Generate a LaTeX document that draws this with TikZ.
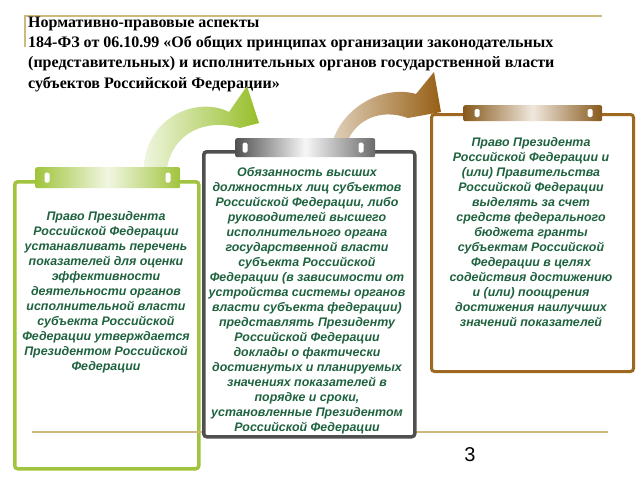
\documentclass[tikz,border=0pt]{standalone}
\usepackage{fontspec}
\setmainfont{Liberation Serif}
\setsansfont{Liberation Sans}
\definecolor{gr}{RGB}{160,196,60}
\definecolor{gy}{RGB}{80,80,80}
\definecolor{br}{RGB}{158,104,32}
\definecolor{txt}{RGB}{30,98,62}
\definecolor{rulec}{RGB}{205,185,125}
\definecolor{grarrow}{RGB}{150,190,40}
\definecolor{brarrow}{RGB}{150,95,20}
\begin{document}
\begin{tikzpicture}[x=1pt,y=-1pt,
 frame/.style={line width=3.5pt, rounded corners=3pt, fill=white, anchor=north west, inner sep=0pt},
 tabbox/.style={rounded corners=2pt, anchor=north west, inner sep=0pt},
 slot/.style={fill=white, rounded corners=1.5pt, minimum width=5pt, minimum height=10pt, inner sep=0pt},
 boxtext/.style={font=\sffamily\bfseries\itshape\fontsize{12.4}{15}\selectfont, text=txt, align=center, inner sep=0pt, anchor=north},
 title/.style={font=\rmfamily\bfseries\fontsize{16}{20.3}\selectfont, align=left, inner sep=0pt, anchor=north west},
]
\useasboundingbox (0,0) rectangle (640,480);
% top rule
\coordinate (r1) at (25,47);
\coordinate (r2) at (25,16);
\coordinate (r3) at (602,16);
\draw[rulec, line width=1.5pt] (r1) -- (r2) -- (r3);
\node[title] (ttl) at (28,16.5) {Нормативно-правовые аспекты\\
184-ФЗ от 06.10.99 «Об общих принципах организации законодательных\\
(представительных) и исполнительных органов государственной власти\\
субъектов Российской Федерации»};

% arrows
\path[left color=white!85!grarrow, right color=grarrow]
  (144,168) .. controls (146,116) and (198,96) .. (229,112)
  -- (247,86) -- (259,123) -- (240,128)
  .. controls (205,118) and (173,133) .. (167,168) -- cycle;
\path[left color=brarrow!30!white, right color=brarrow]
  (333,140) .. controls (345,105) and (385,85) .. (416,94)
  -- (434,72) -- (441,112) -- (408,118)
  .. controls (380,108) and (357,120) .. (348,140) -- cycle;

% green box
\node[frame, draw=gr, minimum width=184pt, minimum height=287pt] (b1) at (13,180) {};
\node[tabbox, minimum width=145pt, minimum height=21pt, left color=gr, right color=gr, middle color=white!85!gr] (t1) at (35,167) {};
\node[slot] (s1a) at (47,177.5) {};
\node[slot] (s1b) at (168,177.5) {};
\node[boxtext] (x1) at (106,211) {Право Президента\\
Российской Федерации\\
устанавливать перечень\\
показателей для оценки\\
эффективности\\
деятельности органов\\
исполнительной власти\\
субъекта Российской\\
Федерации утверждается\\
Президентом Российской\\
Федерации};

% bottom rule
\coordinate (q1) at (32,432);
\coordinate (q2) at (608,432);
\draw[rulec, line width=1.5pt] (q1) -- (q2);

% gray box
\node[frame, draw=gy, minimum width=211pt, minimum height=285pt] (b2) at (202,150) {};
\node[tabbox, minimum width=140pt, minimum height=19pt, left color=gy, right color=gy!85, middle color=white!95!gy] (t2) at (235,138) {};
\node[slot] (s2a) at (245,147.5) {};
\node[slot] (s2b) at (361,147.5) {};
\node[boxtext] (x2) at (307,167) {Обязанность высших\\
должностных лиц субъектов\\
Российской Федерации, либо\\
руководителей высшего\\
исполнительного органа\\
государственной власти\\
субъекта Российской\\
Федерации (в зависимости от\\
устройства системы органов\\
власти субъекта федерации)\\
представлять Президенту\\
Российской Федерации\\
доклады о фактически\\
достигнутых и планируемых\\
значениях показателей в\\
порядке и сроки,\\
установленные Президентом\\
Российской Федерации};

% brown box
\node[frame, draw=br, line width=3pt, minimum width=202pt, minimum height=257pt] (b3) at (430,113) {};
\node[tabbox, minimum width=139pt, minimum height=16pt, left color=br!85!black, right color=br!85!black, middle color=br!15!white] (t3) at (463,105) {};
\node[slot, minimum height=8pt] (s3a) at (477,113) {};
\node[slot, minimum height=8pt] (s3b) at (590,113) {};
\node[boxtext] (x3) at (531,137) {Право Президента\\
Российской Федерации и\\
(или) Правительства\\
Российской Федерации\\
выделять за счет\\
средств федерального\\
бюджета гранты\\
субъектам Российской\\
Федерации в целях\\
содействия достижению\\
и (или) поощрения\\
достижения наилучших\\
значений показателей};

\node[font=\sffamily\fontsize{20}{20}\selectfont, inner sep=0pt] (pg) at (470,455) {3};
\end{tikzpicture}
\end{document}
